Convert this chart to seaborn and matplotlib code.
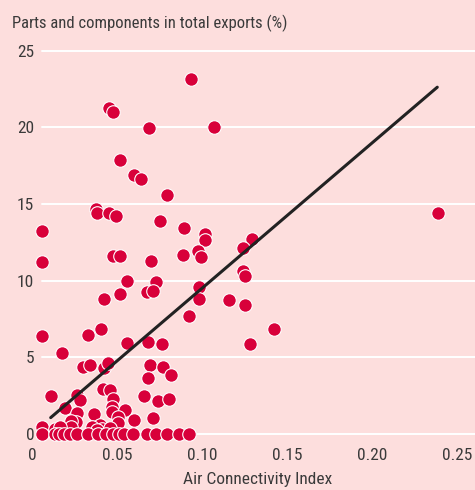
import matplotlib
matplotlib.use("Agg")
import matplotlib.pyplot as plt
import seaborn as sns
import pandas as pd
from matplotlib import font_manager

# ---- data ----
air_index = [
    0.0934, 0.0455, 0.0478, 0.0690, 0.1069, 0.0518, 0.0598, 0.0641, 0.0792, 0.0375,
    0.0384, 0.0455, 0.0496, 0.0057, 0.0753, 0.0896, 0.1018, 0.1018, 0.0976, 0.0996,
    0.0888, 0.0478, 0.0518, 0.0700, 0.0057, 0.0557, 0.0731, 0.0675, 0.0710, 0.0984,
    0.0984, 0.0518, 0.0425, 0.1159, 0.0925, 0.1292, 0.1243, 0.1243, 0.1253, 0.1253,
    0.1425, 0.1282, 0.2386, 0.0057, 0.0331, 0.0404, 0.0557, 0.0681, 0.0763, 0.0178,
    0.0302, 0.0341, 0.0425, 0.0445, 0.0692, 0.0771, 0.0681, 0.0816, 0.0110, 0.0266,
    0.0282, 0.0416, 0.0459, 0.0478, 0.0659, 0.0741, 0.0806, 0.0196, 0.0263, 0.0259,
    0.0366, 0.0469, 0.0469, 0.0547, 0.0504, 0.0598, 0.0710, 0.0229, 0.0229, 0.0057,
    0.0400, 0.0410, 0.0508, 0.0459, 0.0135, 0.0165, 0.0351, 0.0381,
    0.0057, 0.0135, 0.0161, 0.0188, 0.0224, 0.0265, 0.0331, 0.0391, 0.0435, 0.0476,
    0.0509, 0.0541, 0.0597, 0.0676, 0.0729, 0.0794, 0.0862, 0.0925,
]
parts_share = [
    23.18, 21.29, 20.99, 19.96, 20.05, 17.87, 16.88, 16.61, 15.61, 14.68,
    14.44, 14.44, 14.22, 13.26, 13.87, 13.46, 13.05, 12.66, 11.96, 11.57,
    11.68, 11.61, 11.61, 11.30, 11.22, 9.96, 9.90, 9.28, 9.33, 9.61,
    8.79, 9.11, 8.81, 8.74, 7.70, 12.70, 12.15, 10.65, 10.31, 8.40,
    6.87, 5.85, 14.42, 6.39, 6.48, 6.85, 5.92, 5.98, 5.87, 5.30,
    4.39, 4.52, 4.29, 4.61, 4.48, 4.39, 3.67, 3.85, 2.50, 2.54,
    2.22, 2.94, 2.87, 2.28, 2.50, 2.15, 2.30, 1.72, 1.35, 0.80,
    1.30, 1.78, 1.45, 1.59, 1.09, 0.91, 1.06, 0.85, 0.48, 0.44,
    0.59, 0.33, 0.70, 0.37, 0.30, 0.45, 0.48, 0.26,
    0, 0, 0, 0, 0, 0, 0, 0, 0, 0,
    0, 0, 0, 0, 0, 0, 0, 0,
]
trend_x = [0.0110, 0.2384]
trend_y = [1.07, 22.62]

x_ticks = [0, 0.05, 0.10, 0.15, 0.20, 0.25]
x_labels = ["0", "0.05", "0.10", "0.15", "0.20", "0.25"]
y_ticks = [0, 5, 10, 15, 20, 25]
y_labels = ["0", "5", "10", "15", "20", "25"]

title = "Parts and components in total exports (%)"
x_title = "Air Connectivity Index"

# ---- style ----
BG = "#FDDEDD"
RED = "#D8003A"
TXT = "#3a3a3a"

names = {f.name for f in font_manager.fontManager.ttflist}
narrow = [f for f in ["Liberation Sans Narrow", "Arial Narrow", "Roboto Condensed",
                      "Open Sans Condensed", "Noto Sans Condensed"] if f in names]
if narrow:
    family = [narrow[0], "DejaVu Sans"]
    FS = 12
else:
    family = [f for f in ["Liberation Sans", "DejaVu Sans"] if f in names]
    FS = 11

sns.set_theme(style="white")
plt.rcParams["font.family"] = family

df = pd.DataFrame({"air": air_index, "parts": parts_share})

fig = plt.figure(figsize=(4.75, 4.9), dpi=100, facecolor=BG)
ax = fig.add_axes([32 / 475, 0.0892, 443 / 475, 0.8167])
ax.set_facecolor(BG)

for v in y_ticks:
    ax.axhline(v, xmin=10 / 443, xmax=1, color="white", lw=1.4, zorder=0)

sns.scatterplot(data=df, x="air", y="parts", ax=ax, color=RED, s=95,
                edgecolor="white", linewidth=0.8, zorder=2, clip_on=False, legend=False)
sns.lineplot(x=trend_x, y=trend_y, ax=ax, color="#222222", lw=2.2, zorder=3)

ax.set_xlim(0, 443 / 1700)
ax.set_ylim(-0.8, 25.3)
ax.set_xticks(x_ticks)
ax.set_xticklabels(x_labels)
ax.set_yticks(y_ticks)
ax.set_yticklabels(y_labels)
for s in ax.spines.values():
    s.set_visible(False)
ax.grid(False)
ax.tick_params(axis="both", length=0, labelsize=FS + 0.5, colors=TXT)
ax.tick_params(axis="y", pad=-1.7)
ax.tick_params(axis="x", pad=1.0)

ax.set_xlabel(x_title, fontsize=FS + 0.5, color=TXT)
ax.set_ylabel("")
ax.xaxis.label.set_va("center")
ax.xaxis.set_label_coords(0.51, -0.084)

fig.text(12 / 475, 1 - 23 / 490, title, ha="left", va="center", fontsize=FS, color=TXT)

fig.savefig("out.png", dpi=100, facecolor=BG)
